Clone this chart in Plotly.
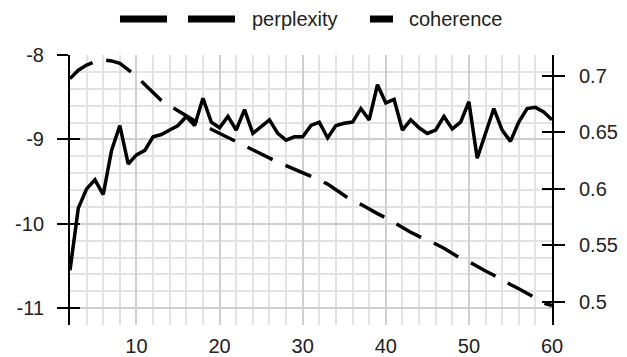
import plotly.graph_objects as go

# ---- data ----
x_vals = list(range(2, 61))

perplexity = [
    -8.28, -8.18, -8.12, -8.08, -8.06, -8.07, -8.10, -8.17, -8.25, -8.35,
    -8.45, -8.54, -8.60, -8.66, -8.73, -8.79, -8.84, -8.88, -8.93, -8.98,
    -9.02, -9.07, -9.12, -9.17, -9.22, -9.27, -9.31, -9.35, -9.39, -9.43,
    -9.48, -9.53, -9.60, -9.67, -9.73, -9.77, -9.83, -9.88, -9.93, -9.99,
    -10.04, -10.10, -10.15, -10.19, -10.24, -10.29, -10.35, -10.41, -10.45, -10.51,
    -10.56, -10.61, -10.67, -10.72, -10.77, -10.82, -10.88, -10.94, -10.97,
]

coherence = [
    0.528, 0.583, 0.600, 0.608, 0.595, 0.634, 0.656, 0.622, 0.630, 0.634,
    0.646, 0.648, 0.652, 0.656, 0.664, 0.656, 0.680, 0.659, 0.654, 0.664,
    0.652, 0.670, 0.649, 0.655, 0.661, 0.649, 0.643, 0.646, 0.646, 0.656,
    0.659, 0.645, 0.656, 0.658, 0.659, 0.671, 0.661, 0.692, 0.676, 0.679,
    0.652, 0.661, 0.654, 0.649, 0.652, 0.664, 0.653, 0.659, 0.677, 0.627,
    0.649, 0.671, 0.652, 0.642, 0.659, 0.671, 0.672, 0.668, 0.661,
]

x_ticks = [10, 20, 30, 40, 50, 60]
left_ticks = [-11, -10, -9, -8]
left_labels = ["-11", "-10", "-9", "-8"]
right_ticks = [0.5, 0.55, 0.6, 0.65, 0.7]
right_labels = ["0.5", "0.55", "0.6", "0.65", "0.7"]
series_names = ["perplexity", "coherence"]

FONT = "Liberation Sans, Arial, sans-serif"
TXT = "#222222"

fig = go.Figure()
fig.add_trace(go.Scatter(
    x=x_vals, y=perplexity, mode="lines", name=series_names[0],
    line=dict(color="black", width=3.5, dash="28px,14px"),
    yaxis="y", showlegend=False,
))
fig.add_trace(go.Scatter(
    x=x_vals, y=coherence, mode="lines", name=series_names[1],
    line=dict(color="black", width=3.5),
    yaxis="y2", showlegend=False,
))
# invisible traces to activate overlay tick axes (crossing ticks)
fig.add_trace(go.Scatter(x=[x_vals[0]], y=[perplexity[0]], yaxis="y3",
                         mode="markers", marker=dict(opacity=0), showlegend=False, hoverinfo="skip"))
fig.add_trace(go.Scatter(x=[x_vals[0]], y=[coherence[0]], yaxis="y4",
                         mode="markers", marker=dict(opacity=0), showlegend=False, hoverinfo="skip"))

left_range = [-11.2, -8.0]
right_range = [0.4797, 0.7183]

fig.update_layout(
    width=627, height=357,
    margin=dict(l=70, r=75, t=55, b=32),
    paper_bgcolor="white", plot_bgcolor="white",
    font=dict(family=FONT, size=20, color=TXT),
    showlegend=False,
    xaxis=dict(
        range=[2, 60], tickvals=x_ticks, ticks="", showline=False,
        showgrid=True, gridcolor="#cfcfcf", gridwidth=1.5,
        minor=dict(dtick=2, tick0=0, showgrid=True, gridcolor="#e3e3e3", gridwidth=1.5),
        zeroline=False, ticklabelstandoff=7, automargin=False,
        tickfont=dict(size=20, family=FONT, color=TXT),
    ),
    yaxis=dict(
        range=left_range, tickvals=left_ticks, ticktext=left_labels,
        ticks="outside", ticklen=11,
        tickwidth=2, tickcolor="black", showline=True, linecolor="black", linewidth=2,
        showgrid=True, gridcolor="#cfcfcf", gridwidth=1.5,
        minor=dict(dtick=0.2, tick0=-11.2, showgrid=True, gridcolor="#e3e3e3", gridwidth=1.5),
        zeroline=False, ticklabelstandoff=9, automargin=False,
        tickfont=dict(size=20, family=FONT, color=TXT),
    ),
    yaxis2=dict(
        range=right_range, tickvals=right_ticks, ticktext=right_labels,
        overlaying="y", side="right", anchor="x",
        ticks="outside", ticklen=11, tickwidth=2, tickcolor="black",
        showline=True, linecolor="black", linewidth=2, showgrid=False, zeroline=False,
        ticklabelstandoff=10, automargin=False,
        tickfont=dict(size=20, family=FONT, color=TXT),
    ),
    yaxis3=dict(
        range=left_range, tickvals=left_ticks, overlaying="y", side="left", anchor="x",
        ticks="inside", ticklen=10, tickwidth=2, tickcolor="black", automargin=False,
        showticklabels=False, showgrid=False, zeroline=False, showline=False,
    ),
    yaxis4=dict(
        range=right_range, tickvals=right_ticks, overlaying="y", side="right", anchor="x",
        ticks="inside", ticklen=10, tickwidth=2, tickcolor="black", automargin=False,
        showticklabels=False, showgrid=False, zeroline=False, showline=False,
    ),
)

# ---- custom legend (paper coordinates) ----
ly = 1.1333
legend_dashes = [(0.1037, 0.2012), (0.2448, 0.3423), (0.6224, 0.6701)]
for x0, x1 in legend_dashes:
    fig.add_shape(type="line", xref="paper", yref="paper", x0=x0, x1=x1, y0=ly, y1=ly,
                  line=dict(color="black", width=7))
fig.add_annotation(x=0.3734, y=ly, xref="paper", yref="paper", text=series_names[0],
                   showarrow=False, xanchor="left", yanchor="middle",
                   font=dict(size=20, family=FONT, color=TXT))
fig.add_annotation(x=0.6992, y=ly, xref="paper", yref="paper", text=series_names[1],
                   showarrow=False, xanchor="left", yanchor="middle",
                   font=dict(size=20, family=FONT, color=TXT))

fig.write_html("out.html")
